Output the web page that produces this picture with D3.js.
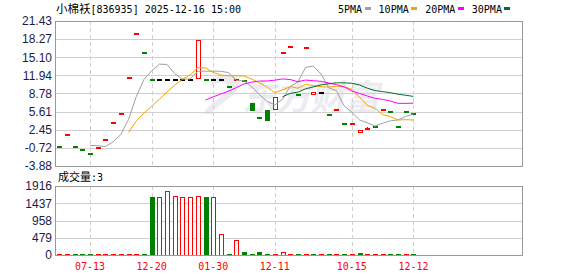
<!DOCTYPE html>
<html><head><meta charset="utf-8">
<script src="https://cdn.jsdelivr.net/npm/d3@7"></script>
<style>body{margin:0;background:#fff}svg{display:block}</style>
</head><body>
<svg id="c" width="578" height="276"></svg>
<script>
// ---------- data ----------
const opens  = [-0.35,1.73,-0.35,-0.88,-1.58,-0.51,0.89,3.83,5.40,11.58,19.28,16.02,11.32,11.30,11.30,11.30,11.30,11.30,11.40,11.32,11.30,11.30,10.08,11.28,11.07,7.19,4.66,5.92,6.04,15.98,17.08,8.67,16.83,8.65,9.10,5.18,6.02,3.61,3.57,2.02,2.70,3.14,6.02,5.76,3.14,5.76,5.36];
const closes = [-0.37,1.75,-0.37,-0.90,-1.60,-0.49,0.91,3.85,5.42,11.60,19.30,16.00,11.30,11.30,11.30,11.30,11.30,11.30,18.10,11.30,11.30,11.30,10.06,11.30,11.05,5.92,4.64,4.17,8.14,16.00,17.10,8.65,16.85,9.10,9.10,5.16,6.04,3.59,3.59,2.42,2.72,3.12,6.04,5.74,3.12,5.74,5.34];
const highs  = [-0.35,1.75,-0.35,-0.88,-1.58,-0.49,0.91,3.85,5.42,11.60,19.30,16.02,11.32,11.30,11.30,11.30,11.30,11.30,18.10,11.32,11.30,11.30,10.08,11.30,11.07,7.19,4.66,5.92,8.14,16.00,17.10,8.67,16.85,9.10,9.10,5.18,6.04,3.61,3.59,2.42,2.97,3.14,6.04,5.76,3.14,5.76,5.36];
const lows   = [-0.37,1.73,-0.37,-0.90,-1.60,-0.51,0.89,3.83,5.40,11.58,19.28,16.00,11.30,11.30,11.30,11.30,11.30,11.30,11.40,11.30,11.30,11.30,10.06,11.28,11.05,5.92,4.64,4.17,6.04,15.98,17.08,8.65,16.83,8.65,9.10,5.16,6.02,3.59,3.57,2.02,2.50,3.12,6.02,5.74,3.12,5.74,5.34];
const ma5  = [null,null,null,null,-0.30,-0.32,-0.49,0.35,1.62,4.26,8.22,11.23,12.72,13.90,13.84,12.24,11.30,11.30,12.66,12.66,12.66,12.66,12.41,11.05,11.00,9.93,8.59,7.42,6.78,7.77,10.01,10.81,13.35,13.54,12.16,9.77,9.25,6.60,5.50,4.16,3.67,3.09,3.58,4.01,4.15,4.75,5.20];
const ma10 = [null,null,null,null,null,null,null,null,null,1.98,3.95,5.37,6.54,7.76,9.05,10.23,11.27,12.01,13.28,13.25,12.45,11.98,11.86,11.86,11.83,11.29,10.63,9.91,8.92,9.39,9.97,9.70,10.38,10.16,9.97,9.89,10.03,9.97,9.52,8.16,6.72,6.17,5.09,4.75,4.15,4.21,4.14];
const ma20 = [null,null,null,null,null,null,null,null,null,null,null,null,null,null,null,null,null,null,null,7.62,8.20,8.68,9.20,9.81,10.44,10.76,10.95,10.96,11.10,11.32,11.21,10.84,11.12,11.01,10.90,10.59,10.33,9.94,9.22,8.77,8.35,7.94,7.74,7.46,7.06,7.05,7.09];
const ma30 = [null,null,null,null,null,null,null,null,null,null,null,null,null,null,null,null,null,null,null,null,null,null,null,null,null,null,null,null,null,8.21,8.79,9.02,9.59,9.93,10.28,10.47,10.64,10.63,10.57,10.27,9.71,9.28,9.11,8.92,8.65,8.47,8.27];
const volumes = [5,5,5,5,5,5,5,5,5,5,5,5,1602,1602,1769,1638,1602,1602,1638,1602,1602,575,5,416,90,5,95,5,5,80,5,5,5,5,5,5,5,5,5,55,5,5,5,5,5,5,3];
const volUp   = [1,1,0,0,0,1,1,1,1,1,1,0,0,1,1,1,1,1,1,0,1,1,0,1,0,0,0,0,1,1,1,0,1,0,1,0,1,0,1,0,1,1,1,0,0,1,0];
const priceTicks = [-3.88,-0.72,2.45,5.61,8.78,11.94,15.10,18.27,21.43];
const priceTickLabels = ["-3.88","-0.72","2.45","5.61","8.78","11.94","15.10","18.27","21.43"];
const volTicks = [0,479,958,1437,1916];
const dateTickIdx = [4,12,20,28,38,46];
const dateTickLabels = ["07-13","12-20","01-30","12-11","10-15","12-12"];
const maNames = ["5PMA","10PMA","20PMA","30PMA"];
const maColors = ["#a0a0a0","#f5a300","#ff00ff","#00702a"];
const titleName = "小棉袄", titleRest = "[836935] 2025-12-16 15:00";
const volLabel = "成交量", lastVol = 3;

// ---------- layout ----------
const L = 55, R = 522, PT = 21, PB = 166, VT = 186, VB = 255;
const RED = "#ff0000", GREEN = "#008000", GRID = "#d0d0d0", BORDER = "#999";
const LABEL = "#1c1c48";
const MONO = "'DejaVu Sans Mono', 'Liberation Mono', monospace";
const CJK = "'Noto Sans CJK SC', sans-serif";

const svg = d3.select("#c");
const x = d3.scaleLinear().domain([-0.55, 60.1]).range([L, R]);
const yP = d3.scaleLinear().domain([-3.88, 21.43]).range([PB, PT]);
const yV = d3.scaleLinear().domain([0, 1916]).range([VB, VT]);
const px = v => Math.round(v) + 0.5;

// watermark
const wm = svg.append("g").attr("transform", "translate(198,110) skewX(-10)").attr("fill", "#ebebf0");
wm.append("path").attr("d", "M8,-30 C20,-40 40,-36 36,-22 C32,-10 18,-6 14,4 L6,4 C10,-8 26,-14 26,-22 C26,-30 14,-28 8,-24 Z");
wm.append("text").attr("x", 44).attr("y", 0)
  .attr("font-family", CJK).attr("font-weight", "bold").attr("font-size", 35)
  .attr("textLength", 138).text("东方财富");

// horizontal grid
svg.append("g").selectAll("line").data(priceTicks).join("line")
  .attr("x1", L).attr("x2", R).attr("y1", d => px(yP(d))).attr("y2", d => px(yP(d)))
  .attr("stroke", GRID).attr("stroke-width", 1);
svg.append("g").selectAll("line").data(volTicks).join("line")
  .attr("x1", L).attr("x2", R).attr("y1", d => px(yV(d))).attr("y2", d => px(yV(d)))
  .attr("stroke", GRID).attr("stroke-width", 1);
// vertical dashed grid
[[PT, PB], [VT, VB]].forEach(([t, b]) => {
  svg.append("g").selectAll("line").data(dateTickIdx).join("line")
    .attr("x1", d => px(x(d))).attr("x2", d => px(x(d))).attr("y1", t).attr("y2", b)
    .attr("stroke", GRID).attr("stroke-width", 1).attr("stroke-dasharray", "4,3");
});

// y labels
svg.append("g").selectAll("text").data(priceTicks).join("text")
  .attr("x", 52).attr("y", d => yP(d)).attr("dy", "0.36em").attr("text-anchor", "end")
  .attr("font-family", "'Liberation Sans', Arial, sans-serif").attr("font-size", 12)
  .attr("fill", LABEL).text((d, i) => priceTickLabels[i]);
svg.append("g").selectAll("text").data(volTicks).join("text")
  .attr("x", 52).attr("y", d => yV(d)).attr("dy", "0.36em").attr("text-anchor", "end")
  .attr("font-family", "'Liberation Sans', Arial, sans-serif").attr("font-size", 12)
  .attr("fill", LABEL).text(d => d);

// x labels
svg.append("g").selectAll("text").data(dateTickIdx).join("text")
  .attr("x", d => x(d)).attr("y", 270).attr("text-anchor", "middle")
  .attr("font-family", MONO).attr("font-size", 10).attr("fill", RED)
  .text((d, i) => dateTickLabels[i]);

// candles
const idx = d3.range(closes.length);
const cColor = i => closes[i] > opens[i] ? RED : closes[i] < opens[i] ? GREEN : "#000";
const gC = svg.append("g").attr("shape-rendering", "crispEdges");
gC.selectAll("line").data(idx).join("line")
  .attr("x1", i => px(x(i))).attr("x2", i => px(x(i)))
  .attr("y1", i => Math.round(yP(highs[i]))).attr("y2", i => Math.round(yP(lows[i])) + 1)
  .attr("stroke", cColor).attr("stroke-width", 1);
gC.selectAll("rect").data(idx).join("rect")
  .attr("x", i => Math.round(x(i) - 2))
  .attr("y", i => Math.round(yP(Math.max(opens[i], closes[i]))))
  .attr("width", 4)
  .attr("height", i => Math.max(1, Math.round(yP(Math.min(opens[i], closes[i]))) - Math.round(yP(Math.max(opens[i], closes[i])))))
  .attr("transform", "translate(0.5,0.5)")
  .attr("fill", i => cColor(i) === RED ? "#fff" : cColor(i))
  .attr("stroke", cColor).attr("stroke-width", 1);

// MA lines
[ma5, ma10, ma20, ma30].forEach((arr, k) => {
  const line = d3.line().defined(d => d != null).x((d, i) => x(i)).y(d => yP(d));
  svg.append("path").attr("d", line(arr)).attr("fill", "none")
    .attr("stroke", maColors[k]).attr("stroke-width", 1);
});

// volume bars
const gV = svg.append("g").attr("shape-rendering", "crispEdges");
gV.selectAll("rect").data(idx).join("rect")
  .attr("x", i => Math.round(x(i) - 2))
  .attr("y", i => Math.min(Math.round(yV(volumes[i])), Math.round(yV(0)) - 1))
  .attr("width", 4)
  .attr("height", i => Math.max(1, Math.round(yV(0)) - Math.round(yV(volumes[i]))))
  .attr("transform", "translate(0.5,0.5)")
  .attr("fill", i => volUp[i] ? "#fff" : GREEN)
  .attr("stroke", i => volUp[i] ? RED : GREEN).attr("stroke-width", 1);

// borders
[[PT, PB], [VT, VB]].forEach(([t, b]) => {
  svg.append("rect").attr("x", L + 0.5).attr("y", t + 0.5).attr("width", R - L).attr("height", b - t)
    .attr("fill", "none").attr("stroke", BORDER).attr("stroke-width", 1);
});

// title
const tt = svg.append("text").attr("x", 56).attr("y", 13).attr("fill", "#000");
tt.append("tspan").attr("font-family", CJK).attr("font-size", 11.5).text(titleName);
tt.append("tspan").attr("font-family", MONO).attr("font-size", 10).text(titleRest);

// legend
let lx = 338;
maNames.forEach((n, k) => {
  const t = svg.append("text").attr("x", lx).attr("y", 12.5).attr("font-family", MONO)
    .attr("font-size", 10).attr("fill", "#000").text(n);
  const w = t.node().getComputedTextLength();
  svg.append("rect").attr("x", Math.round(lx + w + 2.5)).attr("y", 7).attr("width", 6).attr("height", 3)
    .attr("fill", maColors[k]);
  lx = lx + w + 2.5 + 6 + 8;
});

// volume label
const vt = svg.append("text").attr("x", 58).attr("y", 181).attr("fill", "#000");
vt.append("tspan").attr("font-family", CJK).attr("font-size", 11).text(volLabel);
vt.append("tspan").attr("font-family", MONO).attr("font-size", 10).text(":" + lastVol);
</script>
</body></html>
